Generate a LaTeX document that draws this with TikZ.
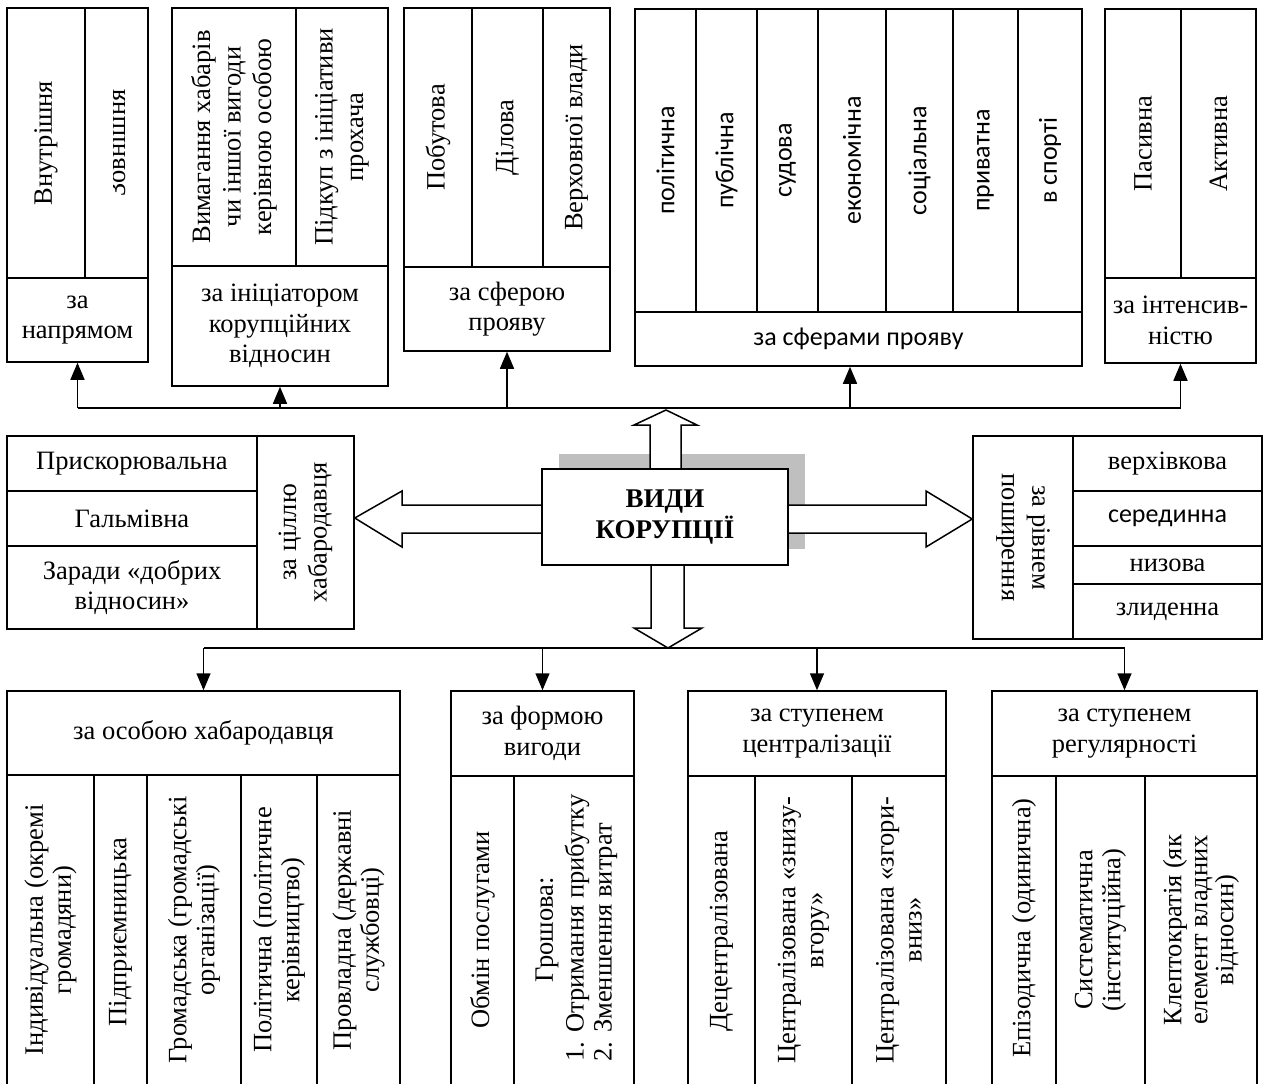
\documentclass[tikz,border=0pt]{standalone}
\usepackage{fontspec}
\setmainfont{Liberation Serif}
\newfontfamily\sansf{Carlito}
\usetikzlibrary{arrows.meta}
\newcommand\msz{\fontsize{26.5}{30.5}\selectfont}
\newcommand\bsz{\fontsize{26.5}{28}\selectfont}
\newcommand\ssz{\sansf\fontsize{26}{30}\selectfont}
\tikzset{
 cellbox/.style={draw, line width=1.5pt, fill=white, inner sep=0pt, align=center, font=\msz},
 vtext/.style={rotate=90, align=center, font=\msz, inner sep=0pt},
 vtextb/.style={rotate=90, align=center, font=\bsz, inner sep=0pt},
 link/.style={line width=1.5pt, -{Triangle[width=14pt,length=17pt]}},
 bus/.style={line width=1.5pt},
 blockarrow/.style={draw, line width=1.5pt, fill=white, line join=miter},
 shadowbox/.style={fill=gray!50, draw=none}
}
\newcommand\cell[7][]{\node[cellbox, minimum width={(#5-#3)*1pt}, minimum height={(#6-#4)*1pt}, #1] (#2) at ({(#3+#5)/2},{(#4+#6)/2}) {#7};}
\begin{document}
\begin{tikzpicture}[x=1pt,y=-1pt]
\useasboundingbox (0,0) rectangle (1264,1084);
\fill[white] (0,0) rectangle (1264,1084);
\clip (0,0) rectangle (1264,1084);

% ---------- top: za napryamom
\cell{vn}{7}{8}{85}{278}{}
\cell{zv}{85}{8}{148}{278}{}
\cell{napr}{7}{278}{148}{362}{за\\напрямом}
\node[vtext] (vn-t) at (vn) {Внутрішня};
\begin{scope}
\clip (113,10) rectangle (147,276);
\node[vtext] (zv-t) at (zv) {Зовнішня};
\end{scope}

% ---------- top: za initsiatorom
\cell{ini1}{172}{8}{296}{266}{}
\cell{ini2}{296}{8}{388}{266}{}
\cell{ini}{172}{266}{388}{386}{за ініціатором\\корупційних\\відносин}
\node[vtext] (ini1-t) at (ini1) {Вимагання хабарів\\чи іншої вигоди\\керівною особою};
\node[vtext] (ini2-t) at (ini2) {Підкуп з ініціативи\\прохача};

% ---------- top: za sferoyu
\cell{sf1}{404}{8}{472}{267}{}
\cell{sf2}{472}{8}{543}{267}{}
\cell{sf3}{543}{8}{610}{267}{}
\cell{sf}{404}{267}{610}{351}{за сферою\\прояву}
\node[vtext] (sf1-t) at (sf1) {Побутова};
\node[vtext] (sf2-t) at (sf2) {Ділова};
\node[vtext] (sf3-t) at (sf3) {Верховної влади};

% ---------- top: za sferamy
\cell{sp1}{635}{9}{696}{312}{}
\cell{sp2}{696}{9}{757}{312}{}
\cell{sp3}{757}{9}{818}{312}{}
\cell{sp4}{818}{9}{886}{312}{}
\cell{sp5}{886}{9}{953}{312}{}
\cell{sp6}{953}{9}{1018}{312}{}
\cell{sp7}{1018}{9}{1082}{312}{}
\cell[font=\ssz]{sp}{635}{312}{1082}{366}{за сферами прояву}
\node[vtext, font=\ssz] (sp1-t) at (sp1) {політична};
\node[vtext, font=\ssz] (sp2-t) at (sp2) {публічна};
\node[vtext, font=\ssz] (sp3-t) at (sp3) {судова};
\node[vtext, font=\ssz] (sp4-t) at (sp4) {економічна};
\node[vtext, font=\ssz] (sp5-t) at (sp5) {соціальна};
\node[vtext, font=\ssz] (sp6-t) at (sp6) {приватна};
\node[vtext, font=\ssz] (sp7-t) at (sp7) {в спорті};

% ---------- top: za intensyvnistyu
\cell{in1}{1105}{9}{1181}{278}{}
\cell{in2}{1181}{9}{1256}{278}{}
\cell{int}{1105}{278}{1256}{363}{за інтенсив-\\ністю}
\node[vtext] (in1-t) at (in1) {Пасивна};
\node[vtext] (in2-t) at (in2) {Активна};

% ---------- top bus
\coordinate (tb1) at (napr.south |- 0,408);
\coordinate (tb2) at (ini.south |- 0,408);
\coordinate (tb3) at (sf.south |- 0,408);
\coordinate (tb4) at (850,408);
\coordinate (tb5) at (int.south |- 0,408);
\draw[bus] (tb1) -- (tb5);
\draw[link] (tb1) -- (napr.south);
\draw[link] (tb2) -- (ini.south);
\draw[link] (tb3) -- (sf.south);
\draw[link] (tb4) -- (sp.south -| tb4);
\draw[link] (tb5) -- (int.south);

% ---------- left group
\cell{l1}{7}{436}{257}{491}{Прискорювальна}
\cell{l2}{7}{491}{257}{546}{Гальмівна}
\cell{l3}{7}{546}{257}{629}{Заради «добрих\\відносин»}
\cell{lh}{257}{436}{354}{629}{}
\node[vtext] (lh-t) at (lh) {за ціллю\\хабародавця};

% ---------- right group
\cell{rh}{973}{436}{1073}{639}{}
\node[vtext, rotate=180] (rh-t) at (rh) {за рівнем\\поширення};
\cell{r1}{1073}{436}{1262}{491}{верхівкова}
\cell[font=\ssz]{r2}{1073}{491}{1262}{546}{серединна}
\cell{r3}{1073}{546}{1262}{584}{низова}
\cell{r4}{1073}{584}{1262}{639}{злиденна}

% ---------- centre
\fill[shadowbox] (559,454) rectangle (805,549);
\coordinate (cu) at (666,410);
\coordinate (cd) at (668,648);
\draw[blockarrow] (650,470) -- (650,425) -- (634,425) -- (cu) -- (697,425) -- (681,425) -- (681,470);
\draw[blockarrow] (651,564) -- (651,628) -- (634,628) -- (cd) -- (702,628) -- (684,628) -- (684,564);
\draw[blockarrow] (543,505) -- (402,505) -- (402,491) -- (lh.east |- 0,518) -- (402,547) -- (402,533) -- (543,533);
\draw[blockarrow] (787,505) -- (926,505) -- (926,491) -- (rh.west |- 0,519) -- (926,547) -- (926,533) -- (787,533);
\cell[font=\fontsize{27}{31}\selectfont\bfseries]{c}{542}{469}{788}{565}{ВИДИ\\КОРУПЦІЇ}

% ---------- bottom group 1
\cell{b1}{7}{691}{400}{775}{за особою хабародавця}
\cell{b1a}{7}{775}{94}{1100}{}
\cell{b1b}{94}{775}{147}{1100}{}
\cell{b1c}{147}{775}{241}{1100}{}
\cell{b1d}{241}{775}{317}{1100}{}
\cell{b1e}{317}{775}{400}{1100}{}
\node[vtextb] (b1a-t) at (b1a.center |- 0,930) {Індивідуальна (окремі\\громадяни)};
\node[vtextb] (b1b-t) at (b1b.center |- 0,932) {Підприємницька};
\node[vtextb] (b1c-t) at (b1c.center |- 0,930) {Громадська (громадські\\організації)};
\node[vtextb] (b1d-t) at (b1d.center |- 0,930) {Політична (політичне\\керівництво)};
\node[vtextb] (b1e-t) at (b1e.center |- 0,930) {Провладна (державні\\службовці)};

% ---------- bottom group 2
\cell{b2}{451}{691}{634}{776}{за формою\\вигоди}
\cell{b2a}{451}{776}{514}{1100}{}
\cell{b2b}{514}{776}{634}{1100}{}
\node[vtextb] (b2a-t) at (b2a.center |- 0,930) {Обмін послугами};
\node[vtextb] (b2b-t) at (547,930) {Грошова:};
\node[vtextb, align=left, anchor=west] (b2b-l) at (591,1062) {1.\hspace{9pt}Отримання прибутку\\2.\hspace{9pt}Зменшення витрат};

% ---------- bottom group 3
\cell{b3}{688}{691}{946}{776}{за ступенем\\централізації}
\cell{b3a}{688}{776}{755}{1100}{}
\cell{b3b}{755}{776}{852}{1100}{}
\cell{b3c}{852}{776}{946}{1100}{}
\node[vtextb] (b3a-t) at (b3a.center |- 0,931) {Децентралізована};
\node[vtextb] (b3b-t) at (b3b.center |- 0,930) {Централізована «знизу-\\вгору»};
\node[vtextb] (b3c-t) at (b3c.center |- 0,930) {Централізована «згори-\\вниз»};

% ---------- bottom group 4
\cell{b4}{992}{691}{1257}{776}{за ступенем\\регулярності}
\cell{b4a}{992}{776}{1056}{1100}{}
\cell{b4b}{1056}{776}{1145}{1100}{}
\cell{b4c}{1145}{776}{1257}{1100}{}
\node[vtextb] (b4a-t) at (b4a.center |- 0,928) {Епізодична (одинична)};
\node[vtextb] (b4b-t) at (b4b.center |- 0,930) {Систематична\\(інституційна)};
\node[vtextb, font=\fontsize{26.5}{26}\selectfont] (b4c-t) at (b4c.center |- 0,930) {Клептократія (як\\елемент владних\\відносин)};

% ---------- bottom bus
\coordinate (bb1) at (b1.north |- cd);
\coordinate (bb2) at (b2.north |- cd);
\coordinate (bb3) at (b3.north |- cd);
\coordinate (bb4) at (b4.north |- cd);
\draw[bus] (bb1) -- (bb4);
\draw[link] (bb1) -- (b1.north);
\draw[link] (bb2) -- (b2.north);
\draw[link] (bb3) -- (b3.north);
\draw[link] (bb4) -- (b4.north);
\end{tikzpicture}
\end{document}
